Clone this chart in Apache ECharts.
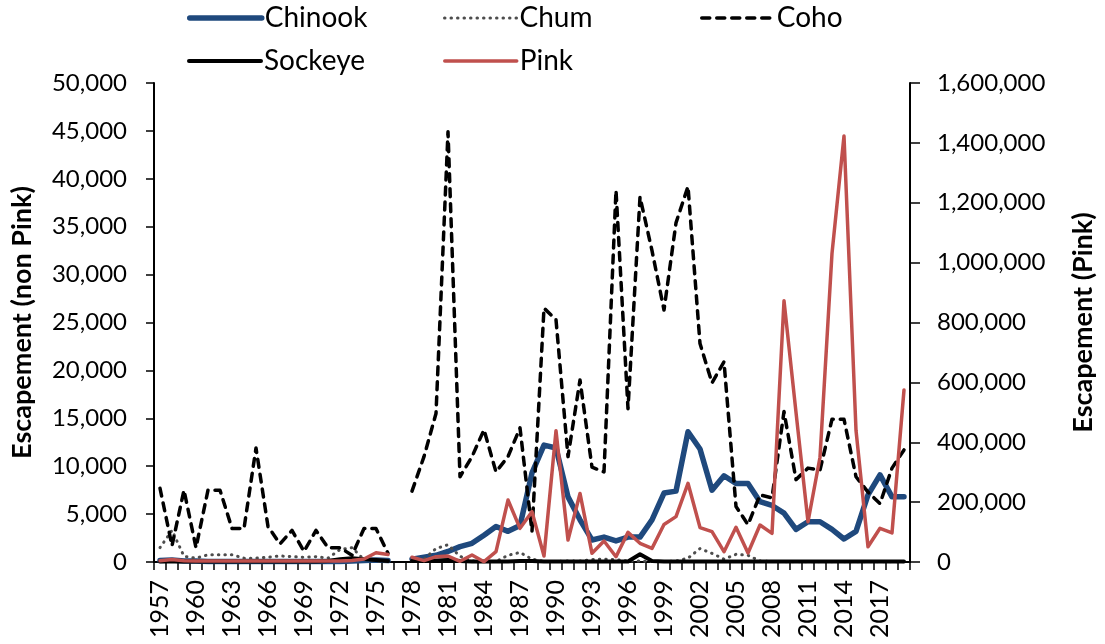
<!DOCTYPE html>
<html>
<head>
<meta charset="utf-8">
<script src="https://cdn.jsdelivr.net/npm/echarts@6/dist/echarts.min.js"></script>
<style>
html,body{margin:0;padding:0;background:#fff;}
#chart{width:1105px;height:644px;}
</style>
</head>
<body>
<div id="chart"></div>
<script>
const years = ['1957','1958','1959','1960','1961','1962','1963','1964','1965','1966','1967','1968','1969','1970','1971','1972','1973','1974','1975','1976','1977','1978','1979','1980','1981','1982','1983','1984','1985','1986','1987','1988','1989','1990','1991','1992','1993','1994','1995','1996','1997','1998','1999','2000','2001','2002','2003','2004','2005','2006','2007','2008','2009','2010','2011','2012','2013','2014','2015','2016','2017','2018','2019'];

const chinook = [150,200,100,100,50,50,50,50,50,50,50,50,50,50,50,50,100,150,200,150,null,
  300,500,700,1100,1600,1950,2800,3700,3200,3800,9300,12200,11900,6800,4400,2300,2600,2200,2600,2600,4400,7200,7400,13600,11800,7500,9000,8200,8200,6300,5900,5100,3400,4200,4200,3400,2400,3200,7000,9100,6800,6800];

const chum = [1500,3300,600,400,750,750,750,400,400,500,630,560,500,560,400,1300,1500,250,100,50,null,
  100,300,1400,1800,600,100,50,50,700,1000,300,50,50,100,100,250,300,250,100,100,50,50,100,400,1400,900,300,800,700,100,50,30,30,30,30,30,30,30,30,30,30,30];

const coho = [7700,1700,7500,1500,7500,7500,3500,3500,11900,3700,1900,3300,1100,3300,1500,1500,700,3500,3500,900,null,
  7400,11000,15500,44900,8900,11000,13800,9400,11000,14000,3200,26500,25300,11000,19000,9900,9400,38800,16000,38100,32500,26300,35400,39200,22800,18700,20900,5800,3900,7000,6700,15700,8600,9800,9600,14900,14900,8900,7300,6100,9800,11700];

const sockeye = [50,50,50,50,50,50,50,50,50,50,50,50,50,50,100,300,400,300,200,100,null,
  100,100,150,200,100,50,50,50,50,100,100,50,50,50,50,50,50,50,50,800,100,50,50,50,50,50,50,50,50,50,50,50,50,50,50,50,50,50,50,50,50,50];

const pink = [4000,8000,4000,3000,3000,3000,3000,3000,3000,3000,3000,3000,3000,3000,3000,3000,5000,10000,31000,25000,null,
  15700,4400,17700,20000,2300,23400,1000,34400,207000,112500,168000,20000,438500,73500,229000,29000,70000,17700,99000,62400,45600,125000,151500,262800,115000,101300,34400,116000,30000,123600,95700,872700,500000,134600,350000,1031000,1423000,440000,51100,112500,97000,574500];

const leftTicks = {min:0, max:50000, interval:5000};
const rightTicks = {min:0, max:1600000, interval:200000};

const FONT = 'Lato, "Liberation Sans", sans-serif';
const fmt = v => Math.round(v).toString().replace(/\B(?=(\d{3})+(?!\d))/g, ',');

const chart = echarts.init(document.getElementById('chart'), null, {renderer:'canvas'});

const legendBase = {
  itemWidth: 72, itemHeight: 14, itemGap: 10, padding: 0,
  itemStyle: {opacity: 0},
  lineStyle: {width: 'inherit'},
  textStyle: {fontFamily: FONT, fontSize: 28, color: '#000', padding: [0, 0, 0, -2]},
  selectedMode: false
};

chart.setOption({
  animation: false,
  backgroundColor: '#fff',
  grid: {left: 154, right: 186, top: 83, bottom: 82, containLabel: false},
  legend: [
    Object.assign({data: ['Chinook'], left: 187, top: 4}, legendBase),
    Object.assign({data: ['Chum'], left: 443, top: 4}, legendBase),
    Object.assign({data: ['Coho'], left: 700, top: 4}, legendBase),
    Object.assign({data: ['Sockeye'], left: 187, top: 47}, legendBase),
    Object.assign({data: ['Pink'], left: 443, top: 47}, legendBase)
  ],
  xAxis: {
    type: 'category',
    data: years,
    boundaryGap: true,
    axisLine: {show: true, lineStyle: {color: '#000', width: 2}},
    axisTick: {show: true, interval: 0, length: 8, alignWithLabel: false, lineStyle: {color: '#000', width: 1.5}},
    axisLabel: {interval: 2, rotate: 90, fontFamily: FONT, fontSize: 25, color: '#000', margin: 18},
    splitLine: {show: false}
  },
  yAxis: [
    {
      type: 'value', position: 'left',
      min: leftTicks.min, max: leftTicks.max, interval: leftTicks.interval,
      name: 'Escapement (non Pink)', nameLocation: 'middle', nameRotate: 90, nameGap: 118,
      nameTextStyle: {fontFamily: FONT, fontSize: 27, fontWeight: 'bold', color: '#000'},
      axisLine: {show: true, lineStyle: {color: '#000', width: 2}},
      axisTick: {show: true, length: 8, lineStyle: {color: '#000', width: 1.5}},
      axisLabel: {fontFamily: FONT, fontSize: 24, color: '#000', margin: 27, formatter: fmt},
      splitLine: {show: false}
    },
    {
      type: 'value', position: 'right',
      min: rightTicks.min, max: rightTicks.max, interval: rightTicks.interval,
      name: 'Escapement (Pink)', nameLocation: 'middle', nameRotate: 90, nameGap: 160,
      nameTextStyle: {fontFamily: FONT, fontSize: 27, fontWeight: 'bold', color: '#000'},
      axisLine: {show: true, lineStyle: {color: '#000', width: 2}},
      axisTick: {show: true, length: 10, lineStyle: {color: '#000', width: 1.5}},
      axisLabel: {fontFamily: FONT, fontSize: 24, color: '#000', margin: 27, formatter: fmt},
      splitLine: {show: false}
    }
  ],
  series: [
    {name: 'Chinook', type: 'line', yAxisIndex: 0, data: chinook, symbol: 'none', connectNulls: false,
     lineStyle: {color: '#1F497D', width: 5.5, join: 'round', cap: 'round'}, itemStyle: {color: '#1F497D'}, z: 2},
    {name: 'Chum', type: 'line', yAxisIndex: 0, data: chum, symbol: 'none', connectNulls: false,
     lineStyle: {color: '#4d4d4d', width: 3, type: [0.5, 6], cap: 'round'}, itemStyle: {color: '#4d4d4d'}, z: 3},
    {name: 'Coho', type: 'line', yAxisIndex: 0, data: coho, symbol: 'none', connectNulls: false,
     lineStyle: {color: '#000', width: 3.5, type: [8, 7], cap: 'round', join: 'round'}, itemStyle: {color: '#000'}, z: 4},
    {name: 'Sockeye', type: 'line', yAxisIndex: 0, data: sockeye, symbol: 'none', connectNulls: false,
     lineStyle: {color: '#000', width: 4, join: 'round', cap: 'round'}, itemStyle: {color: '#000'}, z: 5},
    {name: 'Pink', type: 'line', yAxisIndex: 1, data: pink, symbol: 'none', connectNulls: false,
     lineStyle: {color: '#C0504D', width: 3.5, join: 'round', cap: 'round'}, itemStyle: {color: '#C0504D'}, z: 6}
  ]
});
</script>
</body>
</html>
